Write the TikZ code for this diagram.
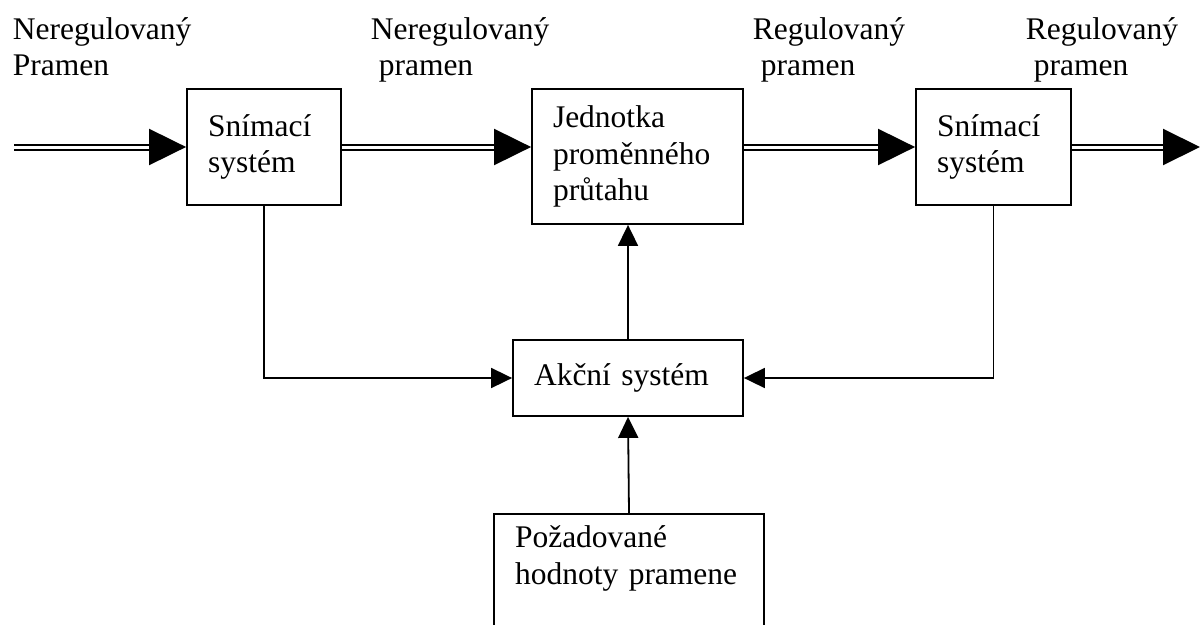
\documentclass[tikz,border=0pt]{standalone}
\usepackage{fontspec}
\setmainfont{Liberation Serif}
\usetikzlibrary{arrows.meta}

\begin{document}
\begin{tikzpicture}[x=1pt, y=-1pt, line width=1.8pt,
        every node/.style={font=\fontsize{31.5}{36.5}\selectfont, align=left, inner sep=0pt},
        blok/.style={draw, inner xsep=21pt, inner ysep=0pt},
        tok/.style={double, double distance=3pt, line width=2pt, -{Triangle[length=37pt, width=36pt]}},
        sipka/.style={-{Triangle[length=21pt, width=20pt]}}]
        \useasboundingbox (0,0) rectangle (1201,624);

        % Bloky v hlavni vetvi
        \node[blok, minimum width=154, minimum height=116, text width=112] (snimA) at (264,147) {Snímací\\systém};
        \node[blok, minimum width=211, minimum height=135, text width=169] (jednotka) at (637.5,156.5) {Jednotka\\proměnného\\průtahu};
        \node[blok, minimum width=155, minimum height=116, text width=113] (snimB) at (993.5,147) {Snímací\\systém};

        % Rizeni
        \node[blok, minimum width=230, minimum height=76, text width=188] (akce) at (628,378) {Akční systém};
        \node[blok, inner ysep=12pt, text width=228, anchor=north] (pozad) at (629,513) {Požadované\\hodnoty pramene\\\mbox{}};

        % Popisky toku
        \node[anchor=north west] (popisA) at (12,16.5) {Neregulovaný\\Pramen};
        \node[anchor=north west] (popisB) at (370,16.5) {Neregulovaný\\\ pramen};
        \node[anchor=north west] (popisC) at (752,16.5) {Regulovaný\\\ pramen};
        \node[anchor=north west] (popisD) at (1025,16.5) {Regulovaný\\\ pramen};

        \coordinate (vstup) at (14,147);
        \coordinate (vystup) at (1200,147);

        % Tok pramene
        \draw[tok] (vstup) -- (snimA.west);
        \draw[tok] (snimA.east) -- (snimA.east -| jednotka.west);
        \draw[tok] (snimB.west -| jednotka.east) -- (snimB.west);
        \draw[tok] (snimB.east) -- (vystup);

        % Zpetne vazby
        \draw[sipka] (snimA.south) |- (akce.west);
        \draw[sipka] (snimB.south) |- (akce.east);
        \draw[sipka] (akce.north) -- (akce.north |- jednotka.south);
        \draw[sipka] (pozad.north) -- (akce.south);
    \end{tikzpicture}
\end{document}
